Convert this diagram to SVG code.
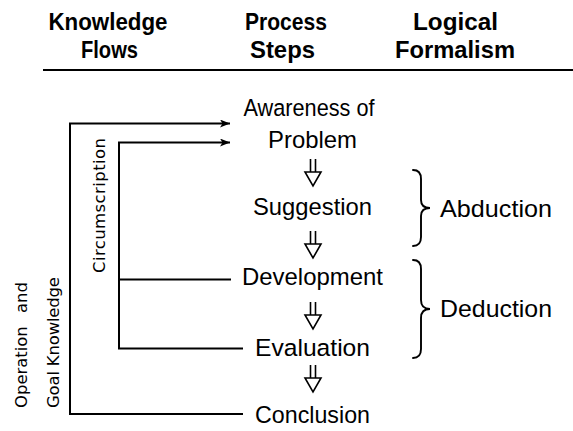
<svg xmlns="http://www.w3.org/2000/svg" width="573" height="431" viewBox="0 0 573 431">
  <defs>
    <style>
      .hdr { font-family: "Liberation Sans", Arial, sans-serif; font-weight: bold; font-size: 24px; fill: #000; text-anchor: middle; }
      .step { font-family: "Liberation Sans", Arial, sans-serif; font-size: 24.5px; fill: #000; text-anchor: middle; }
      .logic { font-family: "Liberation Sans", Arial, sans-serif; font-size: 24.5px; fill: #000; text-anchor: start; }
      .side { font-family: "DejaVu Sans", sans-serif; font-size: 16.5px; fill: #000; text-anchor: start; }
      .wire { fill: none; stroke: #000; stroke-width: 2; }
      .brace { fill: none; stroke: #000; stroke-width: 1.9; stroke-linecap: round; }
      .imp { fill: #fff; stroke: #000; stroke-width: 1.6; stroke-linejoin: miter; }
    </style>
    <marker id="head" viewBox="0 0 10 8" refX="10" refY="4" markerWidth="11" markerHeight="8" markerUnits="userSpaceOnUse" orient="auto">
      <path d="M0,0 L10,4 L0,8 L2.5,4 Z" fill="#000"/>
    </marker>
    <!-- open double-stem implication arrow -->
    <g id="implies">
      <path class="imp" d="M-2.5,0 V13 M2.5,0 V13"/>
      <path class="imp" d="M-8,13 H8 L0,27 Z"/>
    </g>
  </defs>

  <rect width="573" height="431" fill="#fff"/>

  <!-- column headings -->
  <g id="headings">
    <text class="hdr" x="108" y="30" textLength="119" lengthAdjust="spacingAndGlyphs">Knowledge</text>
    <text class="hdr" x="109.5" y="58" textLength="57" lengthAdjust="spacingAndGlyphs">Flows</text>
    <text class="hdr" x="286" y="30" textLength="82" lengthAdjust="spacingAndGlyphs">Process</text>
    <text class="hdr" x="282.5" y="58" textLength="65" lengthAdjust="spacingAndGlyphs">Steps</text>
    <text class="hdr" x="455.5" y="30" textLength="85" lengthAdjust="spacingAndGlyphs">Logical</text>
    <text class="hdr" x="455" y="58" textLength="120" lengthAdjust="spacingAndGlyphs">Formalism</text>
    <line x1="43" y1="70" x2="573" y2="70" stroke="#000" stroke-width="2"/>
  </g>

  <!-- process steps -->
  <g id="awareness">
    <text class="step" x="309" y="116" textLength="131" lengthAdjust="spacingAndGlyphs">Awareness of</text>
    <text class="step" x="312.5" y="148" textLength="89" lengthAdjust="spacingAndGlyphs">Problem</text>
  </g>
  <g id="suggestion">
    <text class="step" x="312.5" y="215" textLength="119" lengthAdjust="spacingAndGlyphs">Suggestion</text>
  </g>
  <g id="development">
    <text class="step" x="312.5" y="285" textLength="141" lengthAdjust="spacingAndGlyphs">Development</text>
  </g>
  <g id="evaluation">
    <text class="step" x="312.5" y="356" textLength="115" lengthAdjust="spacingAndGlyphs">Evaluation</text>
  </g>
  <g id="conclusion">
    <text class="step" x="312.5" y="423" textLength="115" lengthAdjust="spacingAndGlyphs">Conclusion</text>
  </g>

  <!-- step-to-step implications -->
  <g id="step-arrows">
    <use href="#implies" x="313" y="159"/>
    <use href="#implies" x="313" y="231"/>
    <use href="#implies" x="313" y="302"/>
    <use href="#implies" x="313" y="365"/>
  </g>

  <!-- knowledge flows -->
  <g id="connectors">
    <path class="wire" d="M243,414 H70 V123.5 H230" marker-end="url(#head)"/>
    <path class="wire" d="M243,348.5 H119 V142.5 H230" marker-end="url(#head)"/>
    <path class="wire" d="M119,279.5 H231" stroke-width="1.7"/>
  </g>

  <g id="flow-labels">
    <text class="side" transform="translate(104.5,273) rotate(-90)" textLength="135">Circumscription</text>
    <text class="side" transform="translate(27,408) rotate(-90)" textLength="126" word-spacing="8">Operation and</text>
    <text class="side" transform="translate(58.5,408) rotate(-90)" textLength="131">Goal Knowledge</text>
  </g>

  <!-- logical formalism -->
  <g id="abduction">
    <path class="brace" d="M413,170 Q421,170 421,179 L421,200 Q421,208 430,208 Q421,208 421,216 L421,237 Q421,246 413,246"/>
    <text class="logic" x="440" y="217" textLength="112" lengthAdjust="spacingAndGlyphs">Abduction</text>
  </g>
  <g id="deduction">
    <path class="brace" d="M413,260 Q421,260 421,269 L421,300 Q421,309 430,309 Q421,309 421,318 L421,349 Q421,358 413,358"/>
    <text class="logic" x="440" y="317" textLength="112" lengthAdjust="spacingAndGlyphs">Deduction</text>
  </g>
</svg>
